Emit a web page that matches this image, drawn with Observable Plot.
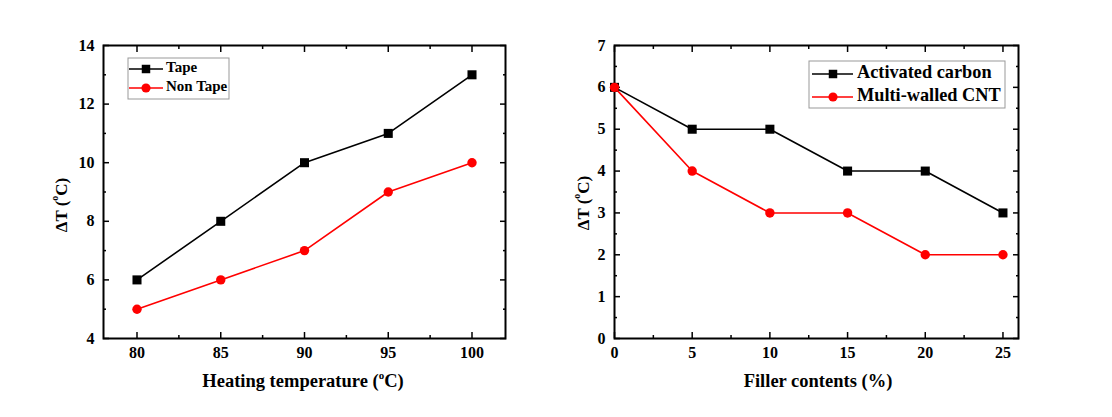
<!DOCTYPE html>
<html>
<head>
<meta charset="utf-8">
<script src="https://cdn.jsdelivr.net/npm/d3@7"></script>
<script src="https://cdn.jsdelivr.net/npm/@observablehq/plot@0.6"></script>
<style>
  html, body { margin: 0; padding: 0; background: #fff; }
  #wrap { position: relative; width: 1112px; height: 417px; background: #fff; overflow: hidden; }
  #p1 { position: absolute; left: 0; top: 0; }
  #p2 { position: absolute; left: 556px; top: 0; }
</style>
</head>
<body>
<div id="wrap"><div id="p1"></div><div id="p2"></div></div>
<script>
// ---- Data: left panel ----
const heatingTemp = [80, 85, 90, 95, 100];
const tapeDT = [6, 8, 10, 11, 13];
const nonTapeDT = [5, 6, 7, 9, 10];
const leftSeriesNames = ["Tape", "Non Tape"];
const leftXTicks = [80, 85, 90, 95, 100];
const leftXMinor = [82.5, 87.5, 92.5, 97.5];
const leftYTicks = [4, 6, 8, 10, 12, 14];
const leftYMinor = [5, 7, 9, 11, 13];

// ---- Data: right panel ----
const fillerContents = [0, 5, 10, 15, 20, 25];
const carbonDT = [6, 5, 5, 4, 4, 3];
const cntDT = [6, 4, 3, 3, 2, 2];
const rightSeriesNames = ["Activated carbon", "Multi-walled CNT"];
const rightXTicks = [0, 5, 10, 15, 20, 25];
const rightXMinor = [2.5, 7.5, 12.5, 17.5, 22.5];
const rightYTicks = [0, 1, 2, 3, 4, 5, 6, 7];
const rightYMinor = [0.5, 1.5, 2.5, 3.5, 4.5, 5.5, 6.5];

const COLORS = ["#000000", "#ff0000"];
const SYMBOLS = ["square", "circle"];
const FONT = "'Liberation Serif', 'Times New Roman', serif";

function makeRows(xs, ys, name) {
  return xs.map((x, i) => ({x, y: ys[i], s: name}));
}

function panel(o) {
  const fmt = d => String(d);
  const marks = [
    // tick labels
    Plot.axisX({anchor: "bottom", ticks: o.xt, tickFormat: fmt, tickSize: 0, tickPadding: 8, label: null}),
    Plot.axisY({anchor: "left", ticks: o.yt, tickFormat: fmt, tickSize: 0, tickPadding: 9, label: null}),
    // inward major ticks (all four sides)
    Plot.axisX({anchor: "bottom", ticks: o.xt, tickSize: -6, fill: "none", label: null, strokeWidth: 1.5}),
    Plot.axisX({anchor: "top", ticks: o.xt, tickSize: -6, fill: "none", label: null, strokeWidth: 1.5}),
    Plot.axisY({anchor: "left", ticks: o.yt, tickSize: -6, fill: "none", label: null, strokeWidth: 1.5}),
    Plot.axisY({anchor: "right", ticks: o.yt, tickSize: -6, fill: "none", label: null, strokeWidth: 1.5}),
    // inward minor ticks
    Plot.axisX({anchor: "bottom", ticks: o.xm, tickSize: -3, fill: "none", label: null, strokeWidth: 1.5}),
    Plot.axisX({anchor: "top", ticks: o.xm, tickSize: -3, fill: "none", label: null, strokeWidth: 1.5}),
    Plot.axisY({anchor: "left", ticks: o.ym, tickSize: -3, fill: "none", label: null, strokeWidth: 1.5}),
    Plot.axisY({anchor: "right", ticks: o.ym, tickSize: -3, fill: "none", label: null, strokeWidth: 1.5}),
    Plot.frame({stroke: "#000", strokeWidth: 2})
  ];
  o.series.forEach((rows, i) => {
    marks.push(Plot.line(rows, {x: "x", y: "y", stroke: COLORS[i], strokeWidth: 1.6}));
    marks.push(Plot.dot(rows, {x: "x", y: "y", fill: COLORS[i], stroke: "none", symbol: () => SYMBOLS[i], r: i === 0 ? 5.1 : 4.7}));
  });
  const svg = Plot.plot({
    width: 556, height: 417,
    marginLeft: o.ml, marginRight: o.mr, marginTop: 45, marginBottom: 79,
    x: {domain: o.xd}, y: {domain: o.yd},
    style: {fontFamily: FONT, fontSize: "16px", fontWeight: "bold", background: "transparent", color: "#000", overflow: "visible"},
    marks
  });
  const s = d3.select(svg);
  // x title
  const xt = s.append("text").attr("x", o.xtx).attr("y", 383)
    .attr("text-anchor", "middle").attr("dominant-baseline", "middle")
    .style("font-size", "18.5px").style("font-weight", "bold").style("font-family", FONT);
  o.xtitle(xt);
  // y title
  const yt = s.append("text").attr("transform", `translate(${o.ytx},${o.yty}) rotate(-90)`)
    .attr("text-anchor", "middle").attr("dominant-baseline", "middle")
    .style("font-size", "17px").style("font-weight", "bold").style("font-family", FONT);
  yt.append("tspan").text("\u0394T (");
  yt.append("tspan").text("o").style("font-size", "10px").attr("dy", -7);
  yt.append("tspan").text("C)").attr("dy", 7);
  // legend
  const L = o.legend;
  s.append("rect").attr("x", L.x0).attr("y", L.y0).attr("width", L.x1 - L.x0).attr("height", L.y1 - L.y0)
    .attr("fill", "#fff").attr("stroke", "#999").attr("stroke-width", 1);
  o.names.forEach((name, i) => {
    const y = L.rows[i];
    s.append("line").attr("x1", L.lx0).attr("x2", L.lx1).attr("y1", y).attr("y2", y)
      .attr("stroke", COLORS[i]).attr("stroke-width", 1.6);
    s.append("path").attr("transform", `translate(${L.mx},${y})`)
      .attr("d", d3.symbol(i === 0 ? d3.symbolSquare : d3.symbolCircle, i === 0 ? 72 : 66)())
      .attr("fill", COLORS[i]);
    s.append("text").attr("x", L.tx).attr("y", y).attr("dominant-baseline", "middle")
      .attr("text-anchor", "start")
      .style("font-size", L.fs).style("font-weight", "bold").style("font-family", FONT)
      .text(name);
  });
  return svg;
}

document.getElementById("p1").appendChild(panel({
  ml: 103, mr: 51, xd: [78, 102], yd: [4, 14],
  xt: leftXTicks, xm: leftXMinor, yt: leftYTicks, ym: leftYMinor,
  series: [makeRows(heatingTemp, tapeDT, leftSeriesNames[0]), makeRows(heatingTemp, nonTapeDT, leftSeriesNames[1])],
  names: leftSeriesNames,
  xtx: 303,
  xtitle: t => {
    t.append("tspan").text("Heating temperature (");
    t.append("tspan").text("o").style("font-size", "11px").attr("dy", -7);
    t.append("tspan").text("C)").attr("dy", 7);
  },
  ytx: 63, yty: 205,
  legend: {x0: 128, x1: 229, y0: 58, y1: 99, rows: [69, 88], lx0: 129, lx1: 163, mx: 146, tx: 166, fs: "15px"}
}));

document.getElementById("p2").appendChild(panel({
  ml: 58, mr: 94, xd: [0, 26], yd: [0, 7],
  xt: rightXTicks, xm: rightXMinor, yt: rightYTicks, ym: rightYMinor,
  series: [makeRows(fillerContents, carbonDT, rightSeriesNames[0]), makeRows(fillerContents, cntDT, rightSeriesNames[1])],
  names: rightSeriesNames,
  xtx: 262,
  xtitle: t => { t.text("Filler contents (%)"); },
  ytx: 29, yty: 203,
  legend: {x0: 253, x1: 449, y0: 61, y1: 108, rows: [74, 97], lx0: 256, lx1: 297, mx: 277, tx: 301, fs: "18.3px"}
}));
</script>
</body>
</html>
